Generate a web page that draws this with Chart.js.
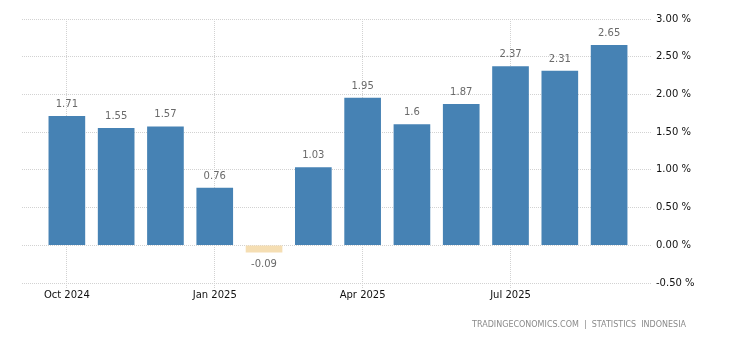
<!DOCTYPE html>
<html>
<head>
<meta charset="utf-8">
<script src="https://cdn.jsdelivr.net/npm/chart.js@4"></script>
<style>
  html, body { margin: 0; padding: 0; background: #fff; }
  #wrap { width: 730px; height: 340px; position: relative; }
</style>
</head>
<body>
<div id="wrap"><canvas id="inflation"></canvas></div>
<script>
// monthly figures, Oct 2024 .. Sep 2025
const months = ['Oct 2024', 'Nov 2024', 'Dec 2024', 'Jan 2025', 'Feb 2025', 'Mar 2025',
                'Apr 2025', 'May 2025', 'Jun 2025', 'Jul 2025', 'Aug 2025', 'Sep 2025'];
const values = [1.71, 1.55, 1.57, 0.76, -0.09, 1.03, 1.95, 1.6, 1.87, 2.37, 2.31, 2.65];
const xTickIndexes = [0, 3, 6, 9];
const yTicks = [-0.5, 0, 0.5, 1, 1.5, 2, 2.5, 3];

const gridColor = '#d2d2d2';

// value labels above bars (below for negatives) + source line
const labelsPlugin = {
  id: 'labels',
  afterDatasetsDraw(chart) {
    const ctx = chart.ctx;
    const meta = chart.getDatasetMeta(0);
    ctx.save();
    ctx.font = '10px "DejaVu Sans"';
    ctx.fillStyle = '#6a6a6a';
    ctx.textAlign = 'center';
    ctx.textBaseline = 'middle';
    meta.data.forEach((bar, i) => {
      const v = values[i];
      const y = v >= 0 ? bar.y - 12 : bar.y + 12;
      ctx.fillText(String(v), bar.x, y);
    });
    ctx.restore();
  },
  afterDraw(chart) {
    const ctx = chart.ctx;
    ctx.save();
    ctx.font = '8px "DejaVu Sans"';
    ctx.fillStyle = '#8a8a8a';
    ctx.textAlign = 'right';
    ctx.textBaseline = 'middle';
    ctx.fillText('TRADINGECONOMICS.COM  |  STATISTICS  INDONESIA', 686, 325);
    ctx.restore();
  }
};

new Chart(document.getElementById('inflation'), {
  type: 'bar',
  data: {
    datasets: [{
      data: values.map((v, i) => ({ x: i, y: v })),
      backgroundColor: values.map(v => v < 0 ? '#f5deb3' : '#4682b4'),
      borderWidth: 0,
      barThickness: 36
    }]
  },
  options: {
    responsive: true,
    maintainAspectRatio: false,
    animation: false,
    layout: { padding: { left: 22, top: 19, right: 0, bottom: 0 } },
    plugins: { legend: { display: false }, tooltip: { enabled: false } },
    scales: {
      x: {
        type: 'linear',
        offset: false,
        min: -0.91,
        max: 11.87,
        afterBuildTicks(scale) {
          scale.ticks = xTickIndexes.map(v => ({ value: v }));
        },
        afterFit(scale) { scale.height = 57; },
        border: { display: false, dash: [1, 1] },
        grid: {
          offset: false,
          color: gridColor,
          tickLength: 5,
          tickBorderDash: [1, 1]
        },
        ticks: {
          autoSkip: false,
          maxRotation: 0,
          padding: 1,
          color: '#111',
          font: { family: 'DejaVu Sans', size: 10 },
          callback: v => months[v]
        }
      },
      y: {
        position: 'right',
        min: -0.5,
        max: 3,
        afterBuildTicks(scale) {
          scale.ticks = yTicks.map(v => ({ value: v }));
        },
        afterFit(scale) { scale.width = 78; },
        border: { display: false, dash: [1, 1] },
        grid: { color: gridColor, drawTicks: false },
        ticks: {
          padding: 4,
          color: '#111',
          font: { family: 'DejaVu Sans', size: 10 },
          callback: v => v.toFixed(2) + ' %'
        }
      }
    }
  },
  plugins: [labelsPlugin]
});
</script>
</body>
</html>
